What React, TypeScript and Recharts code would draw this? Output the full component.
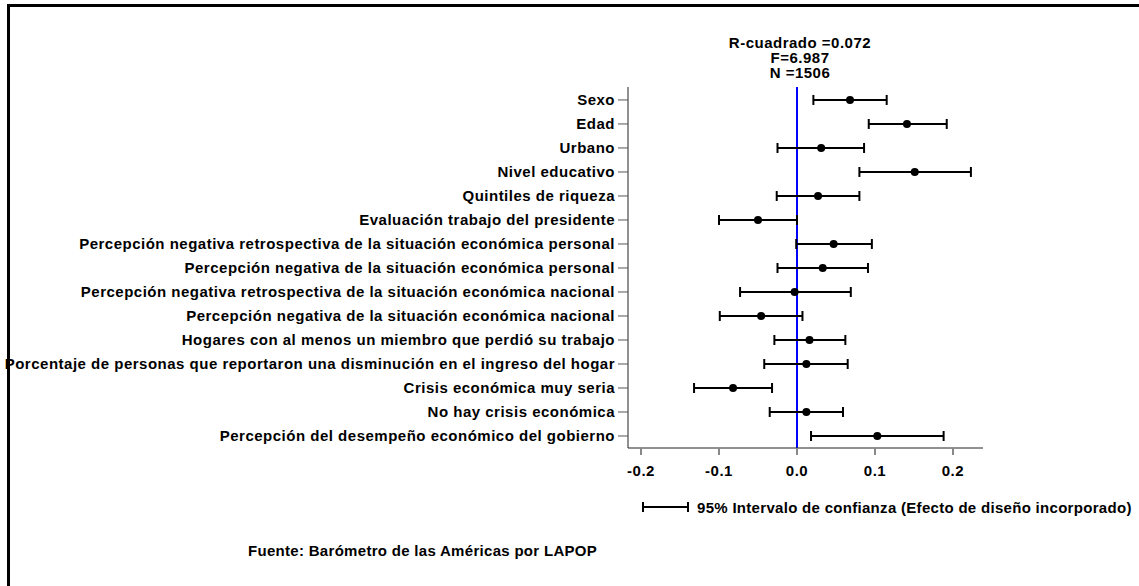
import { ScatterChart, Scatter, ErrorBar, XAxis, YAxis, ReferenceLine } from "recharts";

const labels = [
  "Sexo",
  "Edad",
  "Urbano",
  "Nivel educativo",
  "Quintiles de riqueza",
  "Evaluación trabajo del presidente",
  "Percepción negativa retrospectiva de la situación económica personal",
  "Percepción negativa de la situación económica personal",
  "Percepción negativa retrospectiva de la situación económica nacional",
  "Percepción negativa de la situación económica nacional",
  "Hogares con al menos un miembro que perdió su trabajo",
  "Porcentaje de personas que reportaron una disminución en el ingreso del hogar",
  "Crisis económica muy seria",
  "No hay crisis económica",
  "Percepción del desempeño económico del gobierno",
];

const coef = [0.068, 0.141, 0.031, 0.151, 0.027, -0.05, 0.047, 0.033, -0.003, -0.046, 0.016, 0.012, -0.082, 0.012, 0.103];
const lower = [0.021, 0.092, -0.025, 0.080, -0.026, -0.100, -0.001, -0.025, -0.073, -0.099, -0.029, -0.042, -0.132, -0.035, 0.018];
const upper = [0.115, 0.192, 0.086, 0.223, 0.080, 0.0, 0.096, 0.091, 0.069, 0.007, 0.062, 0.065, -0.032, 0.059, 0.188];

const xTicks = [-0.2, -0.1, 0, 0.1, 0.2];
const rowTicks = labels.map((_, i) => i + 1);

const stats = ["R-cuadrado =0.072", "F=6.987", "N =1506"];
const legendText = "95% Intervalo de confianza (Efecto de diseño incorporado)";
const sourceText = "Fuente: Barómetro de las Américas por LAPOP";

const data = labels.map((label, i) => ({
  row: i + 1,
  label,
  coef: coef[i],
  ci: [coef[i] - lower[i], upper[i] - coef[i]],
}));

const font = "'Liberation Sans', Arial, sans-serif";
const textStyle = { fontFamily: font, fontWeight: "bold" as const, fontSize: 15, letterSpacing: 0.5, color: "#000" };

const Dot = (props: any) => <circle cx={props.cx} cy={props.cy} r={4} fill="#000" />;

export default function App() {
  return (
    <div style={{ position: "absolute", left: 0, top: 0, width: 1139, height: 586, overflow: "hidden", background: "#fff" }}>
      <div style={{ position: "absolute", left: 7, top: 4, width: 1200, height: 700, border: "3px solid #000" }} />
      <div
        style={{
          ...textStyle,
          position: "absolute",
          left: 700,
          top: 35,
          width: 200,
          textAlign: "center",
          lineHeight: "15px",
        }}
      >
        {stats.map((s) => (
          <div key={s}>{s}</div>
        ))}
      </div>
      <ScatterChart
        width={1139}
        height={586}
        margin={{ top: 87, right: 156, bottom: 98, left: 0 }}
        style={{ position: "absolute", left: 0, top: 0, fontFamily: font }}
      >
        <XAxis
          type="number"
          dataKey="coef"
          domain={[-0.2167, 0.2385]}
          allowDataOverflow
          ticks={xTicks}
          tickFormatter={(v: number) => v.toFixed(1)}
          height={40}
          stroke="#222"
          tickLine={{ stroke: "#888", strokeWidth: 2 }}
          tickSize={7}
          tickMargin={10}
          tick={{ fill: "#000", fontSize: 15, fontWeight: "bold", fontFamily: font, letterSpacing: 0.5 }}
        />
        <YAxis
          type="number"
          dataKey="row"
          domain={[0.46, 15.5]}
          allowDataOverflow
          reversed
          ticks={rowTicks}
          interval={0}
          tickFormatter={(v: number) => labels[v - 1]}
          width={628}
          stroke="#222"
          tickLine={{ stroke: "#555", strokeWidth: 1 }}
          tickSize={10}
          tickMargin={3}
          tick={{ fill: "#000", fontSize: 15, fontWeight: "bold", fontFamily: font, letterSpacing: 0.5 }}
        />
        <ReferenceLine x={0} stroke="#0000ff" strokeWidth={2} />
        <Scatter data={data} shape={Dot} isAnimationActive={false}>
          <ErrorBar dataKey="ci" direction="x" width={5} stroke="#000" strokeWidth={2} />
        </Scatter>
      </ScatterChart>
      <div
        style={{
          ...textStyle,
          letterSpacing: 0.3,
          position: "absolute",
          left: 641,
          top: 499,
          display: "flex",
          alignItems: "center",
          whiteSpace: "nowrap",
          height: 16,
        }}
      >
        <svg width={50} height={14}>
          <line x1={2} y1={7} x2={47} y2={7} stroke="#000" strokeWidth={2} />
          <line x1={2} y1={2} x2={2} y2={12} stroke="#000" strokeWidth={2} />
          <line x1={47} y1={2} x2={47} y2={12} stroke="#000" strokeWidth={2} />
        </svg>
        <span style={{ marginLeft: 6 }}>{legendText}</span>
      </div>
      <div
        style={{
          ...textStyle,
          letterSpacing: 0.3,
          position: "absolute",
          left: 248,
          top: 542,
          whiteSpace: "nowrap",
        }}
      >
        {sourceText}
      </div>
    </div>
  );
}
